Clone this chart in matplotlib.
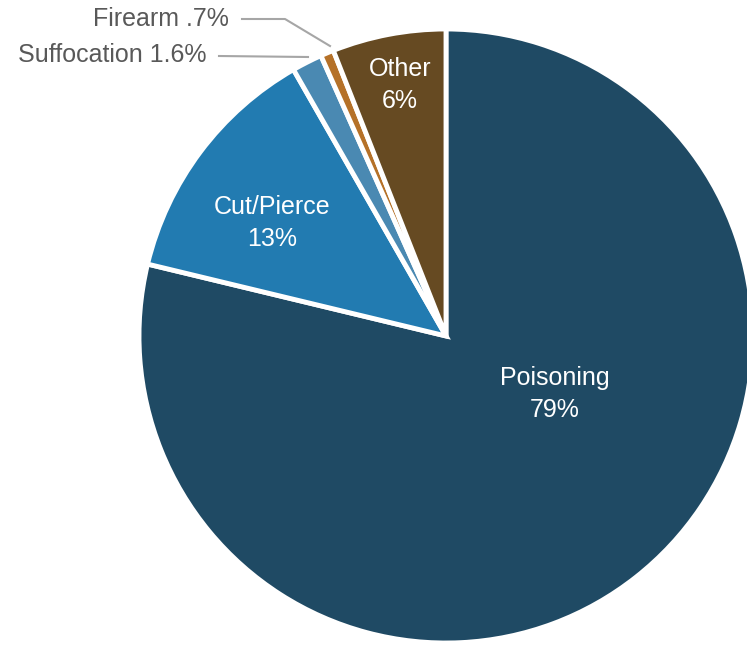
import matplotlib.pyplot as plt

plt.rcParams['font.family'] = ['Liberation Sans', 'DejaVu Sans']

categories = ["Poisoning", "Cut/Pierce", "Suffocation", "Firearm", "Other"]
shares = [79, 13, 1.6, 0.7, 6]
share_labels = ["79%", "13%", "1.6%", ".7%", "6%"]
colors = ["#1F4A64", "#227BB1", "#4A89B2", "#B57128", "#664A22"]

W, H = 747, 649
fig = plt.figure(figsize=(W / 100, H / 100), dpi=100)
ax = fig.add_axes([0, 0, 1, 1])

cx, cy, r = 446, H - 336, 307
ax.pie(shares, colors=colors, startangle=90, counterclock=False,
       center=(cx, cy), radius=r, frame=True,
       wedgeprops=dict(edgecolor="white", linewidth=3.5))
ax.set_xlim(0, W)
ax.set_ylim(0, H)
ax.set_aspect("equal")
ax.axis("off")

# labels inside the slices
inside = {0: (555, 394), 1: (272, 223), 4: (400, 85)}
for i, (x, y) in inside.items():
    ax.text(x, H - y, categories[i] + "\n" + share_labels[i], color="white",
            fontsize=18, ha="center", va="center", linespacing=1.45)

# outside labels with leader lines
grey = "#595959"
line = "#A6A6A6"
ax.text(229, H - 19, categories[3] + " " + share_labels[3], color=grey,
        fontsize=18, ha="right", va="center")
ax.plot([242, 285, 330], [H - 19, H - 19, H - 46], color=line, lw=1.5)
ax.text(206, H - 55, categories[2] + " " + share_labels[2], color=grey,
        fontsize=18, ha="right", va="center")
ax.plot([219, 308], [H - 56, H - 57], color=line, lw=1.5)

fig.savefig("out.png", dpi=100)
